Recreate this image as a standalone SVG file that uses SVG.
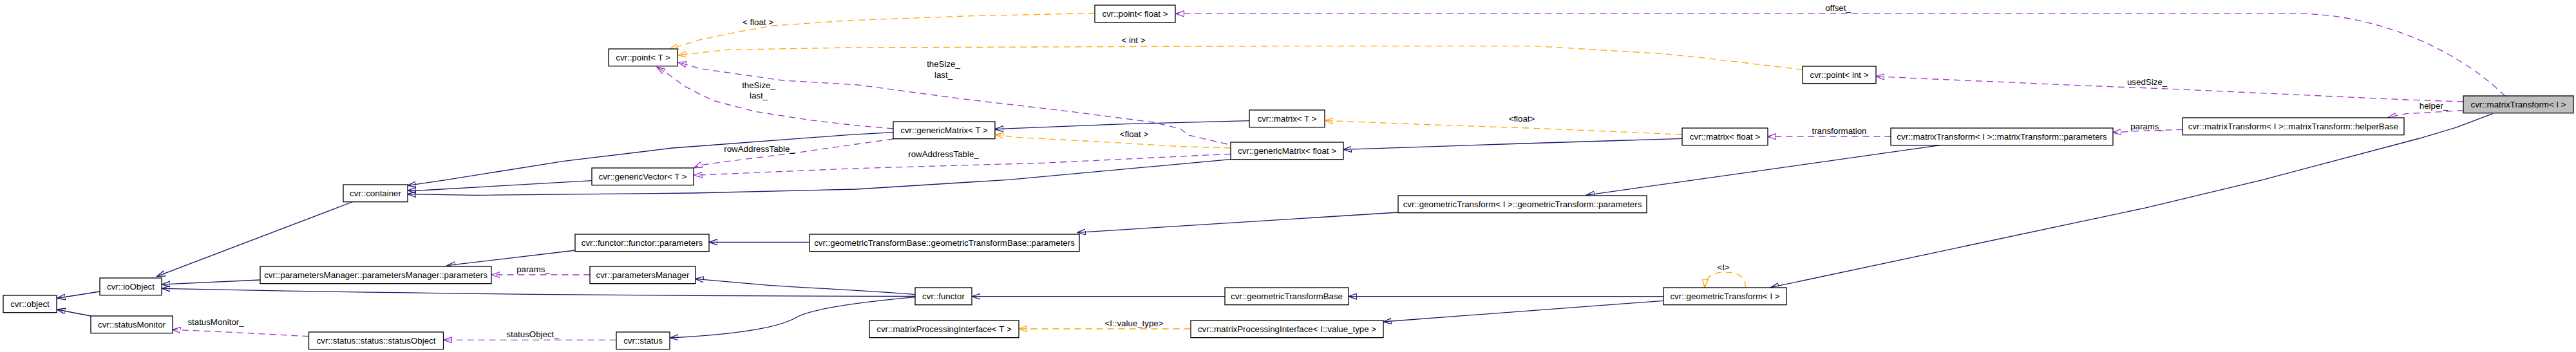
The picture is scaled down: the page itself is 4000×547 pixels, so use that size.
<svg xmlns="http://www.w3.org/2000/svg" width="4000" height="547" viewBox="0 0 4000 547">
<style>
text{font-family:"Liberation Sans",Arial,Helvetica,sans-serif;font-size:13.3px;fill:#000}
.n rect{fill:#fff;stroke:#000;stroke-width:1.3}
.n.f rect{fill:#bfbfbf}
.n text{text-anchor:middle}
.l{text-anchor:middle}
path{fill:none;stroke-width:1.3}
.inh{stroke:#191970;marker-end:url(#aN)}
.use{stroke:#9a32cd;stroke-dasharray:10,7;marker-end:url(#aP)}
.tpl{stroke:#ffa500;stroke-dasharray:10,7;marker-end:url(#aO)}
</style>
<defs>
<marker id="aN" markerUnits="userSpaceOnUse" markerWidth="14" markerHeight="10" refX="13" refY="5" orient="auto" viewBox="0 0 14 10"><path d="M0,0.5 L13,5 L0,9.5 z" fill="#191970" stroke="#191970" stroke-width="1" stroke-dasharray="none"/></marker>
<marker id="aP" markerUnits="userSpaceOnUse" markerWidth="14" markerHeight="10" refX="13" refY="5" orient="auto" viewBox="0 0 14 10"><path d="M0,0.5 L13,5 L0,9.5 z" fill="#9a32cd" stroke="#9a32cd" stroke-width="1" stroke-dasharray="none"/></marker>
<marker id="aO" markerUnits="userSpaceOnUse" markerWidth="14" markerHeight="10" refX="13" refY="5" orient="auto" viewBox="0 0 14 10"><path d="M0,0.5 L13,5 L0,9.5 z" fill="#ffa500" stroke="#ffa500" stroke-width="1" stroke-dasharray="none"/></marker>
</defs>
<rect width="4000" height="547" fill="#fff"/>
<g id="connectors">
<path class="inh" d="M155,453 L88.5,463.5"/>
<path class="inh" d="M141,491 L88.5,481"/>
<path class="inh" d="M548,313.5 L243.5,429.5"/>
<path class="inh" d="M404,435 L251.3,442"/>
<path class="inh" d="M1421,460.5 C1000,460 600,456 251.3,448.3"/>
<path class="inh" d="M1421,457.7 C1380,454 1300,450 1194,443.3 L1079.6,433.3"/>
<path class="inh" d="M1421,461.7 C1330,470 1260,480 1237,493 C1200,515 1100,522 1040.3,525"/>
<path class="inh" d="M1902,460.7 L1509.3,460.7"/>
<path class="inh" d="M2583,460.7 L2093.7,460.7"/>
<path class="inh" d="M2583,467.3 L2147.5,500"/>
<path class="inh" d="M1387,205.7 L1320,209.3 L1044.6,230 L873.7,250.7 L694,279.3 L633,288.3"/>
<path class="inh" d="M919.4,280.7 L660,295.5 L633,296"/>
<path class="inh" d="M1911,247.7 L1565.7,279.3 L1330,294 L1076,300 L737,303.3 L633,301.7"/>
<path class="inh" d="M1940,187.7 L1747,192.7 L1544.8,200.7"/>
<path class="inh" d="M2612,215.3 L2350,223.5 L2085.5,232.3"/>
<path class="inh" d="M893.3,389 L694,412.7"/>
<path class="inh" d="M1256.6,376.3 L1101,376.3"/>
<path class="inh" d="M2171,330 L1672.6,361.3"/>
<path class="inh" d="M3012.8,225.7 L2463,303.3"/>
<path class="inh" d="M3870.6,176.7 L3813,198.3 L3757,215 L3513.8,279.3 L3330,323.3 L2749.4,446.7"/>
<path class="tpl" d="M1700,20.5 L1500,25 L1320,31.7 L1200,40 L1142.9,50 L1087.4,61.7 L1040.3,76"/>
<path class="tpl" d="M2799.4,108.3 L2640,89.3 L2578,83.3 L2386,71.7 L1980,71.7 L1320,74 L1130,77.3 L1053,85.7"/>
<path class="tpl" d="M2612,209 L2400,200 L2200,193 L2057,187.3"/>
<path class="tpl" d="M1911,230 L1832.8,227.7 L1704.6,220 L1576.4,213.3 L1545.6,209"/>
<path class="tpl" d="M1848.6,511 L1581.5,511"/>
<path class="tpl" d="M2710,447 C2712,428 2694,423 2678,423 C2660,423 2648,430 2647,447"/>
<path class="use" d="M3889.8,149.3 C3820,80 3700,25 3577.9,21.3 L1825.5,21.3"/>
<path class="use" d="M3825.3,158 L3736,155 L3372.7,138.3 L3242.7,133.3 L2974.8,121.7 L2912.8,118.7"/>
<path class="use" d="M3825.3,171.7 L3736,176.7 L3708.2,182.3"/>
<path class="use" d="M3389.4,201.3 L3330,203.3 L3280.6,205.7"/>
<path class="use" d="M2936.4,212.3 L2744.5,212.3"/>
<path class="use" d="M1905.5,224 L1845.6,210 L1832.8,200 L1790,190 L1661.9,173.3 L1491,153.3 L1330,131.7 L1215.6,125 L1087.4,106.7 L1053,96.7"/>
<path class="use" d="M1387,200 L1330,195 L1258,186.7 L1172.8,173.3 L1108.7,156.7 L1087.4,146.7 L1061.7,133.3 L1044.6,120 L1020,104"/>
<path class="use" d="M1387,216 L1330,224 L1237,237.3 L1130,250.7 L1087.4,256.7 L1077.5,260.7"/>
<path class="use" d="M1911,239.3 L1619,253.3 L1320,262 L1077.5,272.3"/>
<path class="use" d="M916.4,427 L763.4,427"/>
<path class="use" d="M956.6,528.3 L688.6,528.3"/>
<path class="use" d="M479.5,522.7 L333,515 L267.5,512.3"/>
</g>
<g id="edge-labels">
<text class="l" x="1177" y="39">&lt; float &gt;</text>
<text class="l" x="1760" y="67">&lt; int &gt;</text>
<text class="l" x="2363" y="189">&lt;float&gt;</text>
<text class="l" x="1761" y="213">&lt;float &gt;</text>
<text class="l" x="1761" y="507">&lt;I::value_type&gt;</text>
<text class="l" x="2676" y="419.5">&lt;I&gt;</text>
<text class="l" x="2854" y="17">offset_</text>
<text class="l" x="3334" y="132">usedSize_</text>
<text class="l" x="3779" y="169">helper_</text>
<text class="l" x="3334" y="200.5">params_</text>
<text class="l" x="2856" y="207.5">transformation</text>
<text class="l" x="1465" y="104">theSize_</text>
<text class="l" x="1465" y="120.5">last_</text>
<text class="l" x="1178" y="136.5">theSize_</text>
<text class="l" x="1178" y="152.5">last_</text>
<text class="l" x="1179" y="235.5">rowAddressTable_</text>
<text class="l" x="1465" y="244">rowAddressTable_</text>
<text class="l" x="828" y="423">params_</text>
<text class="l" x="827" y="524">statusObject_</text>
<text class="l" x="335" y="504.5">statusMonitor_</text>
</g>
<g id="object" class="n"><rect x="5" y="459" width="83" height="26.7"/><text x="46.5" y="477">cvr::object</text></g>
<g id="ioObject" class="n"><rect x="155" y="432" width="96" height="26.7"/><text x="203" y="450">cvr::ioObject</text></g>
<g id="statusMonitor" class="n"><rect x="141" y="491" width="127" height="26.7"/><text x="204.5" y="509">cvr::statusMonitor</text></g>
<g id="container" class="n"><rect x="533" y="287" width="100" height="26.7"/><text x="583" y="305">cvr::container</text></g>
<g id="pmParameters" class="n"><rect x="404" y="414" width="359" height="26.7"/><text x="583.5" y="432">cvr::parametersManager::parametersManager::parameters</text></g>
<g id="statusObject" class="n"><rect x="479.5" y="516" width="209" height="26.7"/><text x="584" y="534">cvr::status::status::statusObject</text></g>
<g id="pointT" class="n"><rect x="945" y="76" width="107" height="26.7"/><text x="998.5" y="94">cvr::point&lt; T &gt;</text></g>
<g id="genericVectorT" class="n"><rect x="919" y="261" width="158" height="26.7"/><text x="998" y="279">cvr::genericVector&lt; T &gt;</text></g>
<g id="functorParameters" class="n"><rect x="893" y="364" width="208" height="26.7"/><text x="997" y="382">cvr::functor::functor::parameters</text></g>
<g id="parametersManager" class="n"><rect x="916" y="414" width="164" height="26.7"/><text x="998" y="432">cvr::parametersManager</text></g>
<g id="status" class="n"><rect x="957" y="516" width="83" height="26.7"/><text x="998.5" y="534">cvr::status</text></g>
<g id="gtbParameters" class="n"><rect x="1257" y="364" width="419" height="26.7"/><text x="1466.5" y="382">cvr::geometricTransformBase::geometricTransformBase::parameters</text></g>
<g id="genericMatrixT" class="n"><rect x="1387" y="189" width="158" height="26.7"/><text x="1466" y="207">cvr::genericMatrix&lt; T &gt;</text></g>
<g id="pointFloat" class="n"><rect x="1700" y="8" width="125" height="26.7"/><text x="1762.5" y="26">cvr::point&lt; float &gt;</text></g>
<g id="matrixT" class="n"><rect x="1940" y="171" width="117" height="26.7"/><text x="1998.5" y="189">cvr::matrix&lt; T &gt;</text></g>
<g id="genericMatrixFloat" class="n"><rect x="1911" y="221" width="175" height="26.7"/><text x="1998.5" y="239">cvr::genericMatrix&lt; float &gt;</text></g>
<g id="functor" class="n"><rect x="1421" y="447" width="88" height="26.7"/><text x="1465" y="465">cvr::functor</text></g>
<g id="mpiT" class="n"><rect x="1350" y="498" width="232" height="26.7"/><text x="1466" y="516">cvr::matrixProcessingInterface&lt; T &gt;</text></g>
<g id="geometricTransformBase" class="n"><rect x="1902" y="447" width="192" height="26.7"/><text x="1998" y="465">cvr::geometricTransformBase</text></g>
<g id="mpiValueType" class="n"><rect x="1849" y="498" width="299" height="26.7"/><text x="1998.5" y="516">cvr::matrixProcessingInterface&lt; I::value_type &gt;</text></g>
<g id="gtParameters" class="n"><rect x="2171" y="304" width="386" height="26.7"/><text x="2364" y="322">cvr::geometricTransform&lt; I &gt;::geometricTransform::parameters</text></g>
<g id="geometricTransformI" class="n"><rect x="2583" y="447" width="191" height="26.7"/><text x="2678.5" y="465">cvr::geometricTransform&lt; I &gt;</text></g>
<g id="matrixFloat" class="n"><rect x="2612" y="199" width="133" height="26.7"/><text x="2678.5" y="217">cvr::matrix&lt; float &gt;</text></g>
<g id="pointInt" class="n"><rect x="2799" y="103" width="114" height="26.7"/><text x="2856" y="121">cvr::point&lt; int &gt;</text></g>
<g id="mtParameters" class="n"><rect x="2936" y="199" width="345" height="26.7"/><text x="3108.5" y="217">cvr::matrixTransform&lt; I &gt;::matrixTransform::parameters</text></g>
<g id="helperBase" class="n"><rect x="3389" y="183" width="344" height="26.7"/><text x="3561" y="201">cvr::matrixTransform&lt; I &gt;::matrixTransform::helperBase</text></g>
<g id="matrixTransformI" class="n f"><rect x="3825" y="149" width="171" height="26.7"/><text x="3910.5" y="167">cvr::matrixTransform&lt; I &gt;</text></g>
</svg>
